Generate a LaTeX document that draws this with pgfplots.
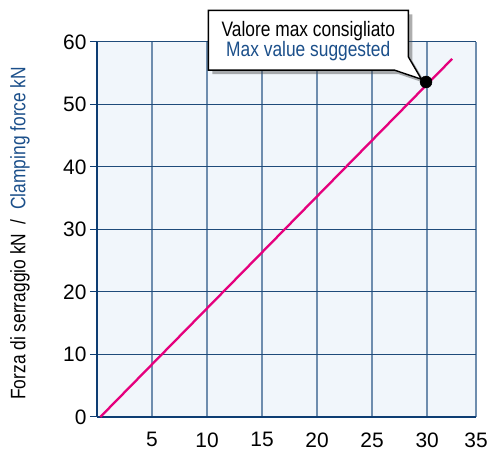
\documentclass[border=0pt]{standalone}
\usepackage{fontspec}
\setmainfont[FakeStretch=0.83]{Liberation Sans}
\newfontfamily\tickfont[FakeStretch=1.0]{Liberation Sans}
\usepackage{pgfplots}
\pgfplotsset{compat=1.18}
\usetikzlibrary{shadows}
\definecolor{bg}{HTML}{F1F6FB}
\definecolor{gridh}{HTML}{1F4B7A}
\definecolor{gridv}{HTML}{6E8DAE}
\definecolor{axisblue}{HTML}{0D3D73}
\definecolor{mag}{HTML}{E5007D}
\definecolor{txtblue}{HTML}{1B4F8A}
\begin{document}
\begin{tikzpicture}
\begin{axis}[
  scale only axis, width=379bp, height=375bp,
  xmin=0, xmax=34.44, ymin=0, ymax=60,
  xtick={5,10,15,20,25,30,34.44},
  xticklabels={5,10,15,20,25,30,35},
  ytick={0,10,...,60},
  grid=major,
  major x grid style={gridv, line width=1.3bp},
  major y grid style={gridh, line width=1bp},
  axis background/.style={fill=bg},
  axis x line*=bottom, axis y line*=left,
  axis line style={-, line width=2.2bp, axisblue},
  x tick style={draw=none},
  y tick style={axisblue, line width=1bp},
  tick align=outside, major tick length=7bp,
  tick label style={font=\tickfont\fontsize{21}{21}\selectfont},
  /pgf/number format/assume math mode=true,
  xticklabel style={yshift=-5bp},
  yticklabel style={xshift=0bp},
  ylabel={Forza di serraggio kN\ \ /\ \ {\color{txtblue}Clamping force kN}},
  ylabel style={at={(axis description cs:-0.203,0.49)}, anchor=center, font=\fontsize{21}{21}\selectfont},
  clip=false,
]
\addplot[mag, line width=2.3bp] coordinates {(0.3,0) (32.27,57.3)};
\addplot[only marks, mark=*, mark size=6bp, black] coordinates {(29.9,53.6)};
\coordinate (SW) at (rel axis cs:0,0);
\coordinate (NE) at (rel axis cs:1,1);
\draw[black, line width=1.4bp, fill=white, drop shadow={shadow xshift=4bp, shadow yshift=-4bp, opacity=0.45, fill=black!70}]
  (axis cs:10.12,65.07) -- (axis cs:28.3,65.07) -- (axis cs:28.3,57.6) -- (axis cs:29.48,54.04)
  -- (axis cs:27.03,55.5) -- (axis cs:10.12,55.5) -- cycle;
\node[font=\fontsize{21}{21}\selectfont, black] at (axis cs:19.2,61.8) {Valore max consigliato};
\node[font=\fontsize{21}{21}\selectfont, txtblue] at (axis cs:19.2,58.6) {Max value suggested};
\end{axis}
\pgfresetboundingbox
\path ([shift={(-97bp,-37bp)}]SW) rectangle ([shift={(12bp,42bp)}]NE);
\end{tikzpicture}
\end{document}
